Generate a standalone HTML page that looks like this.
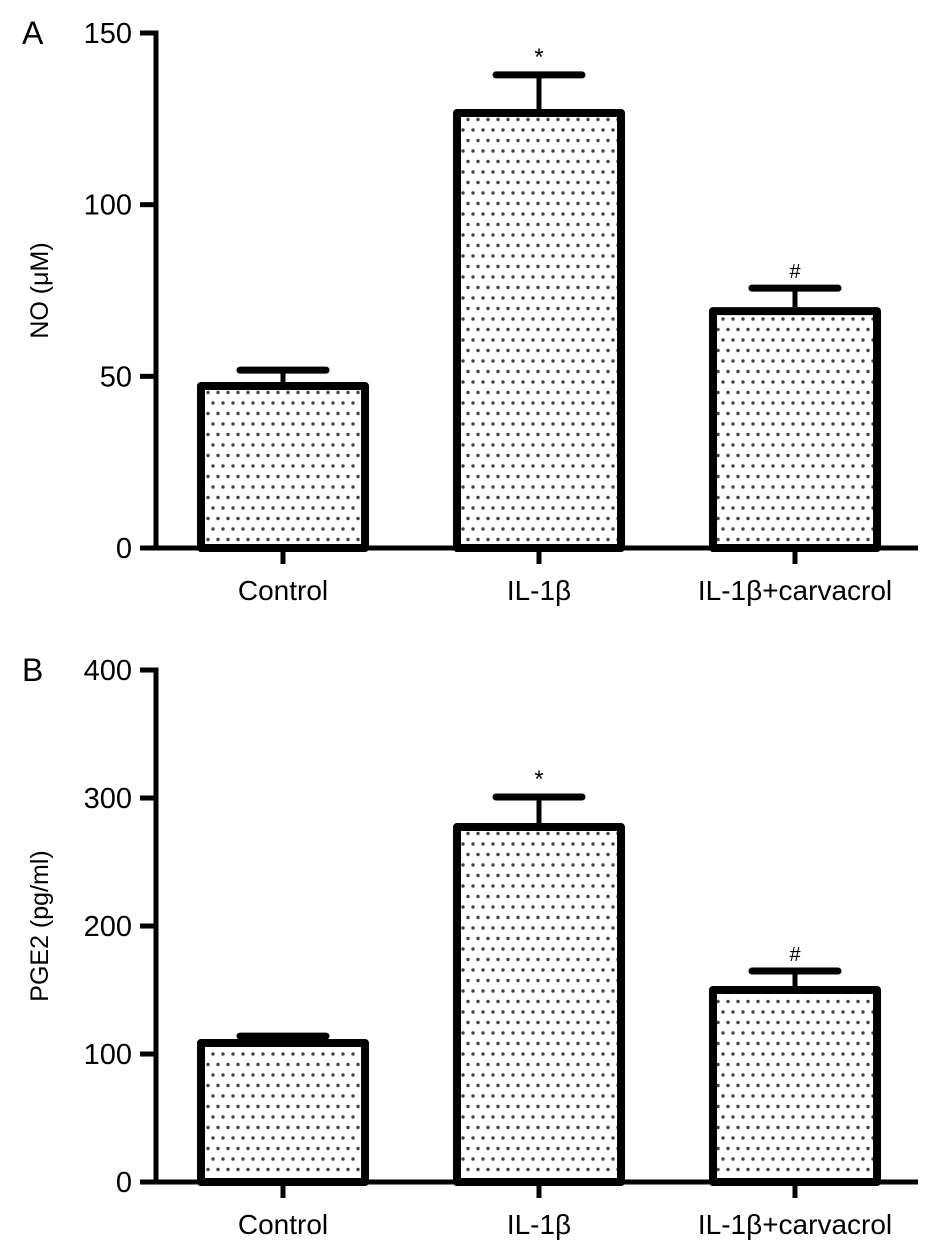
<!DOCTYPE html>
<html><head><meta charset="utf-8"><style>
body{margin:0;background:#fff}
svg{display:block;font-family:"Liberation Sans",Arial,sans-serif}
</style></head><body>
<svg id="chart" width="938" height="1255" viewBox="0 0 938 1255" xmlns="http://www.w3.org/2000/svg">
<defs>
<pattern id="dots" width="10" height="21" patternUnits="userSpaceOnUse">
<circle cx="3" cy="4" r="1.7" fill="#444"/>
<circle cx="8" cy="14.5" r="1.7" fill="#444"/>
</pattern>
</defs>
</svg>
<script>
const categories = ["Control", "IL-1\u03b2", "IL-1\u03b2+carvacrol"];
const noValues = [47.2, 126.7, 69];
const noErrors = [51.8, 137.8, 75.7];
const pgeValues = [108.6, 277.3, 150];
const pgeErrors = [114, 300.8, 164.8];
const noTicks = [0, 50, 100, 150];
const pgeTicks = [0, 100, 200, 300, 400];

const NS = "http://www.w3.org/2000/svg";
const svg = document.getElementById('chart');
function mk(tag, attrs, parent){
  const e = document.createElementNS(NS, tag);
  for (const k in attrs) e.setAttribute(k, attrs[k]);
  (parent||svg).appendChild(e);
  return e;
}
function panel(opt){
  const g = mk('g', {});
  
  
  const x0 = 156, x1 = 918;
  const y = v => opt.y0 - (v / opt.max) * (opt.y0 - opt.yTop);
  const xc = i => 283 + i * 256;
  const bw = 172;
  opt.values.forEach((v, i) => {
    const r = mk('rect', {x: xc(i) - bw/2 + 4, y: y(v), width: bw - 8, height: opt.y0 - y(v), fill: 'url(#dots)', stroke: '#000', 'stroke-width': 8, 'stroke-linejoin': 'round'}, g);
    
    
    const st = mk('line', {x1: xc(i), x2: xc(i), y1: y(v) - 4, y2: y(opt.errs[i]), stroke: '#000', 'stroke-width': 5}, g);
    
    
    const cap = mk('line', {x1: xc(i) - 43, x2: xc(i) + 43, y1: y(opt.errs[i]), y2: y(opt.errs[i]), stroke: '#000', 'stroke-width': 7, 'stroke-linecap': 'round'}, g);
    
    
    if (opt.marks[i]) {
      const t = mk('text', {x: xc(i), y: y(opt.errs[i]) - 10, 'text-anchor': 'middle', 'font-size': opt.marks[i] === '*' ? 24 : 20}, g);
      t.textContent = opt.marks[i];
      
      
    }
    const tk = mk('line', {x1: xc(i), x2: xc(i), y1: opt.y0, y2: opt.y0 + 16, stroke: '#000', 'stroke-width': 5}, g);
    
    
    const lb = mk('text', {x: xc(i), y: opt.y0 + 52, 'text-anchor': 'middle', 'font-size': 28}, g);
    lb.textContent = categories[i];
    
    
  });
  const ya = mk('line', {x1: x0, x2: x0, y1: opt.yTop - 2.5, y2: opt.y0 + 2.5, stroke: '#000', 'stroke-width': 5}, g);
  
  
  const xa = mk('line', {x1: x0 - 16, x2: x1, y1: opt.y0, y2: opt.y0, stroke: '#000', 'stroke-width': 5}, g);
  
  
  opt.ticks.forEach(t => {
    const l = mk('line', {x1: x0 - 16, x2: x0, y1: y(t), y2: y(t), stroke: '#000', 'stroke-width': 5}, g);
    
    
    const tx = mk('text', {x: x0 - 24, y: y(t) + 10, 'text-anchor': 'end', 'font-size': 29}, g);
    tx.textContent = t;
    
    
  });
  const ttl = mk('text', {x: 0, y: 0, 'text-anchor': 'middle', 'font-size': 25, transform: `translate(48,${(opt.y0 + opt.yTop)/2}) rotate(-90)`}, g);
  ttl.textContent = opt.title;
  
  
  const pl = mk('text', {x: 22, y: opt.yTop + 11, 'font-size': 32}, g);
  pl.textContent = opt.letter;
  
  
}
panel({name:'panel-a-no', values: noValues, errs: noErrors, ticks: noTicks, max: 150, y0: 548, yTop: 33, title: 'NO (\u03bcM)', letter: 'A', marks: ['', '*', '#']});
panel({name:'panel-b-pge2', values: pgeValues, errs: pgeErrors, ticks: pgeTicks, max: 400, y0: 1182, yTop: 670, title: 'PGE2 (pg/ml)', letter: 'B', marks: ['', '*', '#']});
</script>
</body></html>
